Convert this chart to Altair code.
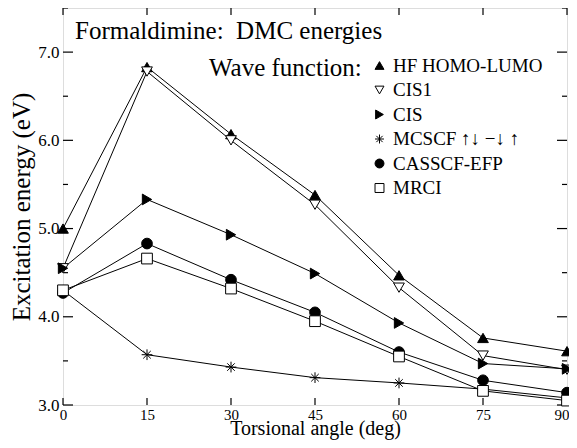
import altair as alt
import pandas as pd

# ---- data ----
angles = [0, 15, 30, 45, 60, 75, 90]
series_names = ["HF HOMO-LUMO", "CIS1", "CIS", "MCSCF \u2191\u2193 \u2212\u2193 \u2191", "CASSCF-EFP", "MRCI"]
hf_homo_lumo = [5.00, 6.83, 6.07, 5.38, 4.47, 3.76, 3.61]
cis1 = [4.55, 6.78, 6.00, 5.27, 4.33, 3.56, 3.40]
cis = [4.55, 5.33, 4.93, 4.49, 3.93, 3.47, 3.41]
mcscf = [4.30, 3.57, 3.43, 3.31, 3.25, 3.18, 3.08]
casscf_efp = [4.27, 4.83, 4.42, 4.05, 3.60, 3.28, 3.14]
mrci = [4.30, 4.66, 4.32, 3.95, 3.55, 3.16, 3.05]

y_major = [3.0, 4.0, 5.0, 6.0, 7.0]
y_minor = [3.5, 4.5, 5.5, 6.5, 7.5]
x_ticks = [0, 15, 30, 45, 60, 75, 90]
title_text = ["Formaldimine:\u00a0 DMC energies"]
legend_title = "Wave function:"

# ---- styling ----
W, H = 504, 397
FONT = "Liberation Serif, DejaVu Serif, serif"
ASTERISK = "M0,-1L0,1M-1,0L1,0M-0.7,-0.7L0.7,0.7M-0.7,0.7L0.7,-0.7"
shapes = ["triangle-up", "triangle-down", "triangle-right", ASTERISK, "circle", "square"]
fills = ["black", "white", "black", "black", "black", "white"]
strokes = ["black"] * 6

rows = []
for name, vals in zip(series_names, [hf_homo_lumo, cis1, cis, mcscf, casscf_efp, mrci]):
    for a, v in zip(angles, vals):
        rows.append({"angle": a, "energy": v, "series": name})
df = pd.DataFrame(rows)

xscale = alt.Scale(domain=[0, 90], nice=False, zero=False)
yscale = alt.Scale(domain=[3.0, 7.5], nice=False, zero=False)

xaxis = alt.Axis(values=x_ticks, ticks=False, domain=False, grid=False,
                 labelFont=FONT, labelFontSize=15, labelColor="black",
                 labelPadding=2, labelFlush=False, labelOverlap=False,
                 labelAlign={"condition": {"test": "datum.value == 90", "value": "right"},
                             "value": "center"},
                 labelOffset={"condition": {"test": "datum.value == 90", "value": 2},
                              "value": 0},
                 title="Torsional angle (deg)", titleFont=FONT, titleFontSize=20,
                 titleFontWeight="normal", titleColor="black",
                 titleBaseline="alphabetic", titlePadding=12)
yaxis = alt.Axis(values=y_major, format=".1f", ticks=False, domain=False, grid=False,
                 labelFont=FONT, labelFontSize=17, labelColor="black",
                 labelPadding=4, labelFlush=False, labelOverlap=False,
                 title="Excitation energy (eV)", titleFont=FONT, titleFontSize=25,
                 titleFontWeight="normal", titleColor="black", titlePadding=3)

X = alt.X("angle:Q", scale=xscale, axis=xaxis)
Y = alt.Y("energy:Q", scale=yscale, axis=yaxis)

legend = alt.Legend(title=legend_title, orient="none", legendX=146, legendY=48,
                    titleOrient="left", titleAnchor="start", titleFont=FONT, titleFontSize=25,
                    titleFontWeight="normal", titleColor="black", titlePadding=8,
                    titleBaseline="top",
                    labelFont=FONT, labelFontSize=19, labelColor="black",
                    labelOffset=4, rowPadding=4.5, symbolSize=80,
                    symbolStrokeColor="black", symbolStrokeWidth=1, padding=0)

sort_order = series_names
lines = alt.Chart(df).mark_line(color="black", strokeWidth=1).encode(
    x=X, y=Y, detail="series:N", order="angle:Q")

points = alt.Chart(df).mark_point(filled=True, strokeWidth=1,
                                  size=115, opacity=1).encode(
    x=X, y=Y,
    shape=alt.Shape("series:N", scale=alt.Scale(domain=sort_order, range=shapes), legend=legend),
    fill=alt.Fill("series:N", scale=alt.Scale(domain=sort_order, range=fills), legend=legend),
    stroke=alt.Stroke("series:N", scale=alt.Scale(domain=sort_order, range=strokes), legend=legend),
)

# inward tick marks (left/right/top/bottom)
ymaj = pd.DataFrame({"energy": y_major})
ymin = pd.DataFrame({"energy": y_minor})
xt = pd.DataFrame({"angle": x_ticks})
tick_style = dict(color="black", strokeWidth=1.2)
left_major = alt.Chart(ymaj).mark_rule(**tick_style).encode(y=Y, x=alt.value(0), x2=alt.value(10))
left_minor = alt.Chart(ymin).mark_rule(**tick_style).encode(y=Y, x=alt.value(0), x2=alt.value(5))
right_major = alt.Chart(ymaj).mark_rule(**tick_style).encode(y=Y, x=alt.value(W), x2=alt.value(W - 10))
right_minor = alt.Chart(ymin).mark_rule(**tick_style).encode(y=Y, x=alt.value(W), x2=alt.value(W - 5))
bottom_t = alt.Chart(xt).mark_rule(**tick_style).encode(x=X, y=alt.value(H), y2=alt.value(H - 7))
top_t = alt.Chart(xt).mark_rule(**tick_style).encode(x=X, y=alt.value(0), y2=alt.value(7))

title = alt.Chart(pd.DataFrame({"t": title_text})).mark_text(
    align="left", baseline="alphabetic", font=FONT, fontSize=25, color="black"
).encode(x=alt.value(12), y=alt.value(31), text="t:N")

chart = alt.layer(
    left_major, left_minor, right_major, right_minor, bottom_t, top_t,
    lines, points, title
).properties(
    width=W, height=H,
    padding={"left": 55, "top": 0, "right": 2, "bottom": 35},
    autosize=alt.AutoSizeParams(type="none"),
).configure_view(stroke="black", strokeWidth=1.5
).configure(background="white")

chart.save("out.html", embed_options={"renderer": "svg", "actions": False})
